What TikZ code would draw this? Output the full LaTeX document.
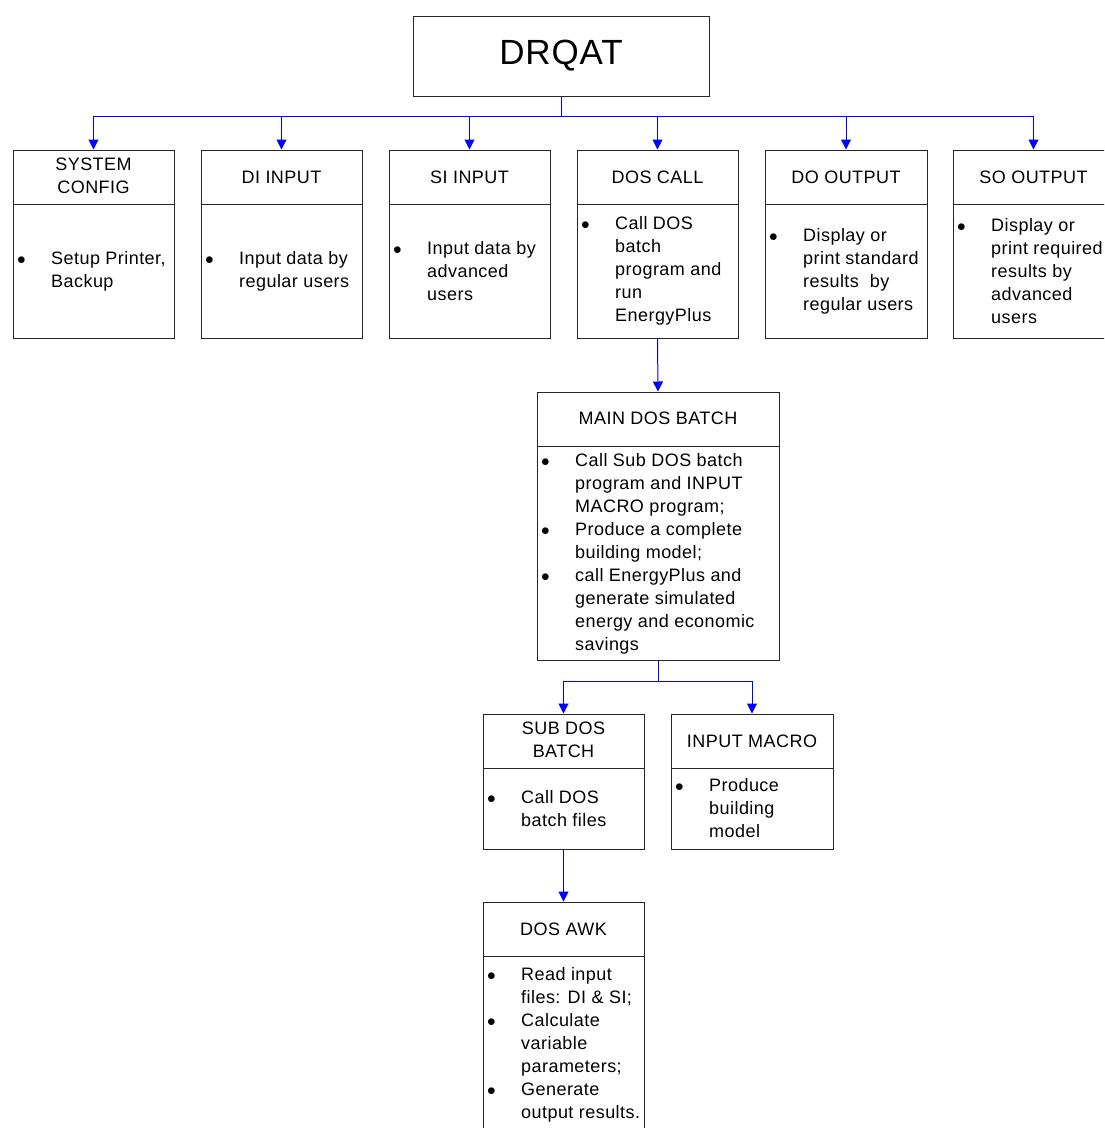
\documentclass[tikz,border=0pt]{standalone}
\usepackage{fontspec}
\setmainfont{Liberation Sans}[LetterSpace=2.5]
\usetikzlibrary{arrows.meta}
\newcommand{\bl}{\makebox[35pt][l]{\hspace{1pt}$\bullet$}}
\newcommand{\ind}{\makebox[35pt][l]{}}
\tikzset{
  box/.style={draw=black!85, line width=1pt, inner sep=0pt, fill=white},
  hdr/.style={inner sep=0pt, align=center, font={\fontsize{18}{23}\selectfont}},
  bdy/.style={inner sep=0pt, align=left, anchor=west, font={\fontsize{18}{23}\selectfont}},
  conn/.style={draw=blue, line width=1pt},
  arr/.style={conn, -{Triangle[width=10pt,length=10pt]}},
  divl/.style={draw=black!85, line width=1pt}
}
\begin{document}
\begin{tikzpicture}[x=1pt,y=-1pt]
\useasboundingbox (0,0) rectangle (1104,1128);
\clip (0,0) rectangle (1104,1128);
% top
\node[box, minimum width=296pt, minimum height=80pt] (drqat) at (561,56) {};
\node[hdr, font={\fontsize{35}{40}\selectfont}] (drqatt) at (561,56) {DRQAT};
% level 1 boxes
\node[box, minimum width=161pt, minimum height=188pt] (sc) at (93.5,244) {};
\node[box, minimum width=161pt, minimum height=188pt] (di) at (281.5,244) {};
\node[box, minimum width=161pt, minimum height=188pt] (si) at (469.5,244) {};
\node[box, minimum width=161pt, minimum height=188pt] (dc) at (657.5,244) {};
\node[box, minimum width=162pt, minimum height=188pt] (do) at (846,244) {};
\node[box, minimum width=161pt, minimum height=188pt] (so) at (1033.5,244) {};
\foreach \n in {sc,di,si,dc,do,so} {
  \draw[divl] (\n.west |- 0,204) -- (\n.east |- 0,204);
}
\node[hdr] (sch) at (93.5,176) {SYSTEM\\CONFIG};
\node[hdr] (dih) at (281.5,177) {DI INPUT};
\node[hdr] (sih) at (469.5,177) {SI INPUT};
\node[hdr] (dch) at (657.5,177) {DOS CALL};
\node[hdr] (doh) at (846,177) {DO OUTPUT};
\node[hdr] (soh) at (1033.5,177) {SO OUTPUT};
\node[bdy] (scb) at (16,271) {\bl Setup Printer,\\ \ind Backup};
\node[bdy] (dib) at (204,271) {\bl Input data by\\ \ind regular users};
\node[bdy] (sib) at (392,271) {\bl Input data by\\ \ind advanced\\ \ind users};
\node[bdy] (dcb) at (580,271) {\bl Call DOS\\ \ind batch\\ \ind program and\\ \ind run\\ \ind EnergyPlus};
\node[bdy] (dob) at (768,271) {\bl Display or\\ \ind print standard\\ \ind results~ by\\ \ind regular users};
\node[bdy] (sob) at (956,271) {\bl Display or\\ \ind print required\\ \ind results by\\ \ind advanced\\ \ind users};
% main dos batch
\node[box, minimum width=242pt, minimum height=268pt] (main) at (658,526) {};
\draw[divl] (main.west |- 0,446) -- (main.east |- 0,446);
\node[hdr] (mainh) at (658,418) {MAIN DOS BATCH};
\node[bdy] (mainb) at (540,554) {\bl Call Sub DOS batch\\ \ind program and INPUT\\ \ind MACRO program;\\ \bl Produce a complete\\ \ind building model;\\ \bl call EnergyPlus and\\ \ind generate simulated\\ \ind energy and economic\\ \ind savings};
% sub dos batch
\node[box, minimum width=161pt, minimum height=135pt] (sub) at (563.5,781.5) {};
\draw[divl] (sub.west |- 0,768) -- (sub.east |- 0,768);
\node[hdr] (subh) at (563.5,740) {SUB DOS\\BATCH};
\node[bdy] (subb) at (486,809) {\bl Call DOS\\ \ind batch files};
% input macro
\node[box, minimum width=162pt, minimum height=135pt] (mac) at (752,781.5) {};
\draw[divl] (mac.west |- 0,768) -- (mac.east |- 0,768);
\node[hdr] (mach) at (752,741) {INPUT MACRO};
\node[bdy] (macb) at (674,808) {\bl Produce\\ \ind building\\ \ind model};
% dos awk
\node[box, minimum width=161pt, minimum height=230pt] (awk) at (563.5,1017) {};
\draw[divl] (awk.west |- 0,956) -- (awk.east |- 0,956);
\node[hdr] (awkh) at (563.5,929) {DOS AWK};
\node[bdy] (awkb) at (486,1045) {\bl Read input\\ \ind files: DI \& SI;\\ \bl Calculate\\ \ind variable\\ \ind parameters;\\ \bl Generate\\ \ind output results.};
% connectors
\coordinate (bus) at (561,116);
\draw[conn] (drqat.south) -- (bus);
\draw[conn] (sc.north |- bus) -- (so.north |- bus);
\foreach \n in {sc,di,si,dc,do,so} {
  \draw[arr] (\n.north |- bus) -- (\n.north);
}
\draw[arr] (dc.south) -- (main.north);
\coordinate (bus2) at (658,681);
\draw[conn] (main.south) -- (bus2);
\draw[conn] (sub.north |- bus2) -- (mac.north |- bus2);
\draw[arr] (sub.north |- bus2) -- (sub.north);
\draw[arr] (mac.north |- bus2) -- (mac.north);
\draw[arr] (sub.south) -- (awk.north);
\end{tikzpicture}
\end{document}
